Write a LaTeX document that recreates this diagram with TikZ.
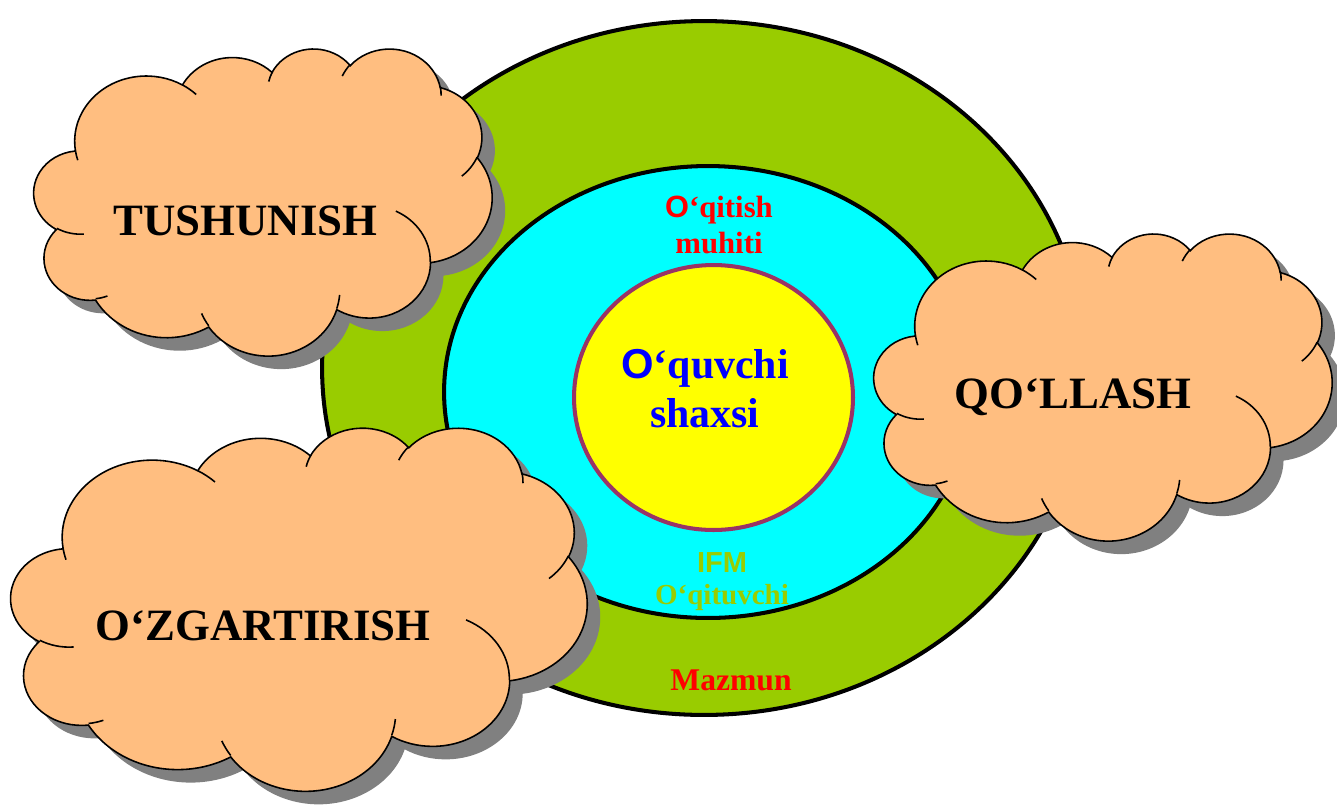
\documentclass[tikz,border=0pt]{standalone}
\usepackage{fontspec}
\setmainfont{Liberation Serif}
\newfontfamily\arialfont{Liberation Sans}
\usetikzlibrary{shapes.geometric}
\definecolor{ringgreen}{RGB}{153,204,0}
\definecolor{ringcyan}{RGB}{0,255,255}
\definecolor{coreyellow}{RGB}{255,255,0}
\definecolor{coreborder}{RGB}{153,51,102}
\definecolor{cloudfill}{RGB}{255,190,128}
\definecolor{cloudshade}{RGB}{128,128,128}

% one bump of the cloud: x radius, y radius, start and sweep angle (seen angles)
\tikzset{
    puff/.style n args={4}{
        /utils/exec={%
            \pgfmathparse{atan2((#1)*sin(#3),(#2)*cos(#3))}\xdef\puffS{\pgfmathresult}%
            \pgfmathparse{atan2((#1)*sin(#3+#4),(#2)*cos(#3+#4))}\xdef\puffE{\pgfmathresult}%
            \pgfmathparse{mod((\puffE)-(\puffS)+720,360)}\xdef\puffD{\pgfmathresult}%
        },
        x radius=#1, y radius=#2, start angle=\puffS, delta angle=\puffD
    }
}

\newcommand{\cloudoutline}{(39.00,143.70)
    arc[puff={67.53}{91.90}{-190.4875}{123.7805}]
    arc[puff={53.33}{72.67}{-144.1024}{89.9452}]
    arc[puff={43.65}{59.45}{-145.8079}{99.7230}]
    arc[puff={48.57}{65.95}{-130.9861}{117.2417}]
    arc[puff={53.33}{72.73}{-78.7089}{109.0269}]
    arc[puff={67.75}{92.20}{-46.2673}{130.2690}]
    arc[puff={57.85}{78.67}{0.6250}{114.0333}]
    arc[puff={67.52}{92.15}{22.4516}{115.1726}]
    arc[puff={77.20}{105.43}{66.2426}{75.7110}]
    arc[puff={43.60}{59.18}{-274.9421}{146.7356}]
    arc[puff={43.45}{59.45}{-246.8285}{152.5189}]
    -- cycle}

\newcommand{\cloudstubs}{
    (46.93,261.77) arc[puff={43.45}{59.45}{86.7420}{26.4295}]
    (69.28,348.99) arc[puff={43.60}{59.18}{73.6105}{11.4475}]
    (164.78,390.90) arc[puff={67.52}{92.15}{137.6242}{14.0811}]
    (288.27,347.51) arc[puff={67.52}{92.15}{6.4533}{15.9984}]
    (341.29,229.54) arc[puff={57.85}{78.67}{-70.2924}{70.9174}]
    (417.98,153.54) arc[puff={53.33}{72.73}{30.3180}{27.7515}]
    (383.24,54.26) arc[puff={48.57}{65.95}{-13.7443}{14.8589}]
    (290.78,39.52) arc[puff={48.57}{65.95}{-149.1815}{18.1954}]
    (221.41,47.20) arc[puff={43.65}{59.45}{-163.4943}{17.6864}]
    (140.00,51.92) arc[puff={67.53}{91.90}{-66.7070}{12.3194}]
    (41.27,157.89) arc[puff={67.53}{91.90}{157.6544}{11.8582}]}

% cloud with its shadow: top left corner, width, height (in px)
\newcommand{\pptcloud}[4]{%
    \begin{scope}[shift={(#1,#2)}, x=#3*0.02cm/432, y=-#4*0.02cm/432]
        \fill[cloudshade, xshift=0.26cm, yshift=-0.26cm] \cloudoutline;
        \filldraw[fill=cloudfill, draw=black, line width=0.9pt] \cloudoutline;
        \draw[black, line width=0.9pt] \cloudstubs;
    \end{scope}}

\begin{document}
\begin{tikzpicture}[
    x=0.02cm, y=-0.02cm,
    ring/.style={ellipse, draw=black, line width=2.3pt, inner sep=0pt},
    ringlabel/.style={font=\fontsize{17.5}{20.4}\selectfont\bfseries, align=center, anchor=base, inner sep=0pt},
    cloudlabel/.style={font=\fontsize{25.5}{30}\selectfont\bfseries, text=black, anchor=base, inner sep=0pt}
]
    \useasboundingbox[fill=white] (0,0) rectangle (1337,809);

    % nested rings
    \node[ring, fill=ringgreen, minimum width=15.28cm, minimum height=13.88cm] (content) at (704,368) {};
    \node[ring, fill=ringcyan, minimum width=10.56cm, minimum height=9.04cm] (environment) at (708,392) {};
    \node[ellipse, fill=coreyellow, draw=coreborder, line width=2.3pt, inner sep=0pt,
          minimum width=5.58cm, minimum height=5.3cm] (core) at (713.5,397.5) {};

    % ring labels
    \node[ringlabel, text=red] (envlabel) at (719,253) {{\arialfont O}‘qitish\\muhiti};
    \node[ringlabel, text=ringgreen, font=\fontsize{16.5}{18.1}\selectfont\bfseries] (teacherlabel) at (722,604) {{\arialfont IFM}\\O‘qituvchi};
    \node[ringlabel, text=red, font=\fontsize{18}{21}\selectfont\bfseries] (contentlabel) at (731,690) {Mazmun};
    \node[ringlabel, text=blue, font=\fontsize{23.8}{27.8}\selectfont\bfseries] (pupil) at (705,427) {{\arialfont O}‘quvchi\\shaxsi};

    % clouds
    \pptcloud{34}{48}{458}{307}
    \node[cloudlabel] (understand) at (245.5,235) {TUSHUNISH};
    \pptcloud{874}{233}{458}{307}
    \node[cloudlabel] (apply) at (1073,408) {QO‘LLASH};
    \pptcloud{11}{427}{576}{363}
    \node[cloudlabel] (change) at (263,640) {O‘ZGARTIRISH};
\end{tikzpicture}
\end{document}
